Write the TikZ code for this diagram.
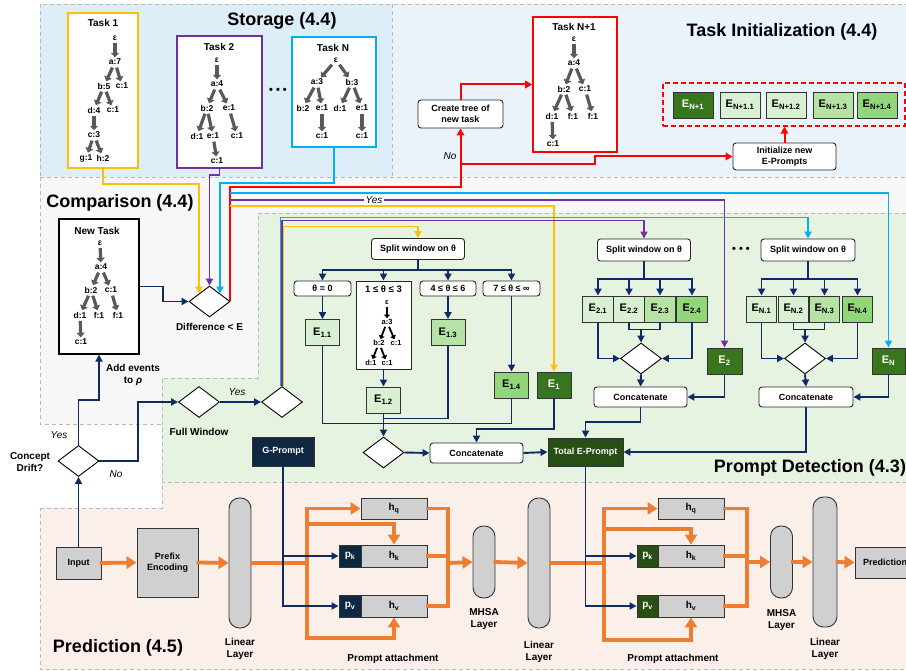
\documentclass[tikz,border=0pt]{standalone}
\usepackage{fontspec}
\setmainfont{Liberation Sans}
\usetikzlibrary{arrows.meta,positioning,calc,shapes.geometric}

\definecolor{navy}{RGB}{16,42,102}
\definecolor{orng}{RGB}{237,125,49}
\definecolor{ylw}{RGB}{255,192,0}
\definecolor{purp}{RGB}{112,48,160}
\definecolor{cyn}{RGB}{0,176,240}
\definecolor{myred}{RGB}{255,0,0}
\definecolor{boxgray}{RGB}{208,208,208}
\definecolor{darknavy}{RGB}{14,40,65}
\definecolor{edark}{RGB}{56,118,29}
\definecolor{etotal}{RGB}{39,78,19}
\definecolor{elight}{RGB}{217,240,211}
\definecolor{emid}{RGB}{182,227,165}
\definecolor{ehigh}{RGB}{146,214,122}
\definecolor{stobg}{RGB}{221,238,248}
\definecolor{inibg}{RGB}{235,243,250}
\definecolor{cmpbg}{RGB}{247,247,247}
\definecolor{detbg}{RGB}{229,243,224}
\definecolor{prdbg}{RGB}{251,239,234}
\definecolor{treegray}{RGB}{89,89,89}
\definecolor{dashgray}{RGB}{185,185,185}

\tikzset{
  region/.style={draw=dashgray, line width=0.9pt, dash pattern=on 4pt off 3pt},
  sect/.style={font=\bfseries\fontsize{18}{20}\selectfont},
  ttl/.style={font=\bfseries\fontsize{10}{12}\selectfont, inner sep=1pt},
  tl/.style={font=\bfseries\fontsize{8.5}{9}\selectfont, inner sep=1pt},
  tarr/.style={draw=treegray, line width=3.2pt, -{Triangle[length=4.5pt,width=8pt]}, shorten <=1.5pt, shorten >=0.5pt},
  tarrs/.style={draw=black, line width=1.8pt, -{Triangle[length=3.5pt,width=6pt]}, shorten <=1pt},
  taskbox/.style={draw=#1, fill=white, line width=1.8pt, inner sep=0pt},
  rbox/.style={draw=black!85, fill=white, rounded corners=3pt, line width=0.9pt, font=\bfseries\fontsize{9}{11}\selectfont, align=center, inner sep=1pt},
  ebox/.style={draw=black!80, line width=0.9pt, font=\bfseries\fontsize{11}{12}\selectfont, minimum width=34pt, minimum height=26pt, inner sep=0pt},
  dkbox/.style={draw=black!80, line width=0.9pt, text=white, font=\bfseries\fontsize{9}{11}\selectfont, inner sep=1pt},
  gbox/.style={draw=black!80, line width=0.9pt, fill=boxgray, font=\bfseries\fontsize{9}{11}\selectfont, align=center, inner sep=1pt},
  pill/.style={draw=black!80, line width=0.9pt, fill=boxgray, rounded corners=10.5pt, minimum width=22pt},
  dia/.style={diamond, draw=black, fill=white, line width=0.9pt, minimum width=41pt, minimum height=31pt, inner sep=0pt},
  lbl/.style={font=\bfseries\fontsize{10}{12}\selectfont, align=center},
  yesno/.style={font=\itshape\fontsize{10}{12}\selectfont},
  nav/.style={draw=navy, line width=1.9pt, -{Triangle[length=7pt,width=7pt]}},
  navline/.style={draw=navy, line width=1.9pt},
  oarr/.style={draw=orng, line width=3.8pt, line cap=rect, -{Triangle[length=10pt,width=12pt]}},
  oline/.style={draw=orng, line width=3.8pt, line cap=rect},
  redarr/.style={draw=myred, line width=2pt, -{Triangle[length=7pt,width=7.5pt]}},
  ylwarr/.style={draw=ylw, line width=1.8pt, -{Triangle[length=7pt,width=7pt]}},
  purarr/.style={draw=purp, line width=1.8pt, -{Triangle[length=7pt,width=7pt]}},
  cynarr/.style={draw=cyn, line width=1.8pt, -{Triangle[length=7pt,width=7pt]}},
}

\begin{document}
\begin{tikzpicture}[x=1pt, y=-1pt]
\useasboundingbox (0,0) rectangle (906,671);
\clip (0,0) rectangle (906,671);

% regions
\filldraw[region, fill=stobg] (40,4) rectangle (392,177);
\filldraw[region, fill=inibg] (392,4) rectangle (915,177);
\filldraw[region, fill=cmpbg] (40,177) -- (915,177) -- (915,213) -- (258,213) -- (258,378) -- (162,378) -- (162,424) -- (40,424) -- cycle;
\filldraw[region, fill=detbg] (258,213) -- (915,213) -- (915,482) -- (162,482) -- (162,378) -- (258,378) -- cycle;
\filldraw[region, fill=prdbg] (40,508) -- (162,508) -- (162,482) -- (915,482) -- (915,669) -- (40,669) -- cycle;

\node[sect] (tsto) at (282,21) {Storage (4.4)};
\node[sect] (tini) at (782,32) {Task Initialization (4.4)};
\node[sect] (tcmp) at (120,203) {Comparison (4.4)};
\node[sect] (tdet) at (810,468) {Prompt Detection (4.3)};
\node[sect] (tprd) at (118,648) {Prediction (4.5)};

% storage trees
\node[taskbox=ylw, minimum width=70pt, minimum height=155pt] (task1) at (103,90.5) {};
\node[ttl] (task1t) at (103,23) {Task 1};
\node[tl] (t1e) at (115,38) {ε};
\node[tl] (t1a) at (115,62) {a:7};
\node[tl] (t1b) at (104,86) {b:5};
\node[tl] (t1c) at (122,86) {c:1};
\node[tl] (t1d) at (94,110) {d:4};
\node[tl] (t1c2) at (113,110) {c:1};
\node[tl] (t1c3) at (94,135) {c:3};
\node[tl] (t1g) at (86,158) {g:1};
\node[tl] (t1h) at (103,158) {h:2};
\draw[tarr] (t1e) -- (t1a);
\draw[tarr] (t1a) -- (t1b);
\draw[tarr] (t1a) -- (t1c);
\draw[tarr] (t1b) -- (t1d);
\draw[tarr] (t1b) -- (t1c2);
\draw[tarr] (t1d) -- (t1c3);
\draw[tarr] (t1c3) -- (t1g);
\draw[tarr] (t1c3) -- (t1h);

\node[taskbox=purp, minimum width=85pt, minimum height=132pt] (task2) at (219.5,102) {};
\node[ttl] (task2t) at (219,47) {Task 2};
\node[tl] (t2e) at (217,60) {ε};
\node[tl] (t2a) at (217,84) {a:4};
\node[tl] (t2b) at (207,108) {b:2};
\node[tl] (t2f) at (229,108) {e:1};
\node[tl] (t2d) at (197,136) {d:1};
\node[tl] (t2g) at (213,136) {e:1};
\node[tl] (t2c) at (237,136) {c:1};
\node[tl] (t2h) at (217,161) {c:1};
\draw[tarr] (t2e) -- (t2a);
\draw[tarr] (t2a) -- (t2b);
\draw[tarr] (t2a) -- (t2f);
\draw[tarr] (t2b) -- (t2d);
\draw[tarr] (t2b) -- (t2g);
\draw[tarr] (t2f) -- (t2c);
\draw[tarr] (t2g) -- (t2h);

\node[font=\bfseries\fontsize{11}{11}\selectfont] (dots1) at (278,91) {• • •};

\node[taskbox=cyn, minimum width=84pt, minimum height=110pt] (taskN) at (334,92) {};
\node[ttl] (taskNt) at (333,48) {Task N};
\node[tl] (tne) at (336,60) {ε};
\node[tl] (tna) at (317,82) {a:3};
\node[tl] (tnb) at (352,82) {b:3};
\node[tl] (tnb2) at (303,108) {b:2};
\node[tl] (tne1) at (322,108) {e:1};
\node[tl] (tnd) at (340,108) {d:1};
\node[tl] (tne2) at (362,108) {e:1};
\node[tl] (tnc1) at (322,136) {c:1};
\node[tl] (tnc2) at (362,136) {c:1};
\draw[tarr] (tne) -- (tna);
\draw[tarr] (tne) -- (tnb);
\draw[tarr] (tna) -- (tnb2);
\draw[tarr] (tna) -- (tne1);
\draw[tarr] (tnb) -- (tnd);
\draw[tarr] (tnb) -- (tne2);
\draw[tarr] (tne1) -- (tnc1);
\draw[tarr] (tne2) -- (tnc2);

% task initialization
\node[taskbox=myred, minimum width=84pt, minimum height=135pt, line width=1.6pt] (taskN1) at (575,84.5) {};
\node[ttl] (taskN1t) at (574,27) {Task N+1};
\node[tl] (u1e) at (574,39) {ε};
\node[tl] (u1a) at (574,63) {a:4};
\node[tl] (u1b) at (564,89) {b:2};
\node[tl] (u1c) at (585,89) {c:1};
\node[tl] (u1d) at (552,116) {d:1};
\node[tl] (u1f) at (573,116) {f:1};
\node[tl] (u1f2) at (593,116) {f:1};
\node[tl] (u1c2) at (553,144) {c:1};
\draw[tarr] (u1e) -- (u1a);
\draw[tarr] (u1a) -- (u1b);
\draw[tarr] (u1a) -- (u1c);
\draw[tarr] (u1b) -- (u1d);
\draw[tarr] (u1b) -- (u1f);
\draw[tarr] (u1c) -- (u1f2);
\draw[tarr] (u1d) -- (u1c2);

\node[rbox, minimum width=85pt, minimum height=28pt] (crtree) at (460.5,114) {Create tree of\\new task};
\node[rbox, minimum width=103pt, minimum height=27pt] (initE) at (784.5,156.5) {Initialize new\\E-Prompts};
\node[draw=myred, line width=1.4pt, dash pattern=on 5pt off 3pt, minimum width=242pt, minimum height=43pt] (edash) at (784,104.5) {};
\node[ebox, fill=edark, text=white, minimum width=40pt] (enp1) at (693,105) {E\textsubscript{N+1}};
\node[ebox, fill=elight, minimum width=40pt] (enp11) at (740,105) {E\textsubscript{N+1.1}};
\node[ebox, fill=elight, minimum width=40pt] (enp12) at (786,105) {E\textsubscript{N+1.2}};
\node[ebox, fill=emid, minimum width=40pt] (enp13) at (833,105) {E\textsubscript{N+1.3}};
\node[ebox, fill=ehigh, minimum width=40pt] (enp14) at (877,105) {E\textsubscript{N+1.4}};

% comparison
\node[taskbox=black, minimum width=80pt, minimum height=135pt, line width=1.2pt] (newtask) at (99,286.5) {};
\node[ttl] (newtaskt) at (97,231) {New Task};
\node[tl] (n1e) at (100,243) {ε};
\node[tl] (n1a) at (101,267) {a:4};
\node[tl] (n1b) at (91,290) {b:2};
\node[tl] (n1c) at (111,290) {c:1};
\node[tl] (n1d) at (80,315) {d:1};
\node[tl] (n1f) at (99,315) {f:1};
\node[tl] (n1f2) at (118,315) {f:1};
\node[tl] (n1c2) at (81,342) {c:1};
\draw[tarr] (n1e) -- (n1a);
\draw[tarr] (n1a) -- (n1b);
\draw[tarr] (n1a) -- (n1c);
\draw[tarr] (n1b) -- (n1d);
\draw[tarr] (n1b) -- (n1f);
\draw[tarr] (n1c) -- (n1f2);
\draw[tarr] (n1d) -- (n1c2);

\node[dia] (diff) at (209.5,301.5) {};
\node[lbl] (diffl) at (209.5,327) {Difference < E};
\node[dia] (drift) at (78.5,461) {};
\node[lbl] (driftl) at (30,462) {Concept\\Drift?};
\node[dia] (fw) at (199,402) {};
\node[lbl] (fwl) at (199,432) {Full Window};
\node[dia] (dsel) at (282,402) {};
\node[lbl] (addl) at (133,375) {Add events\\to \textit{ρ}};

% prompt detection, group 1
\node[rbox, minimum width=93pt, minimum height=21pt] (split1) at (418,249) {Split window on θ};
\node[rbox, minimum width=57pt, minimum height=15pt] (th0) at (322.5,288.5) {θ = 0};
\node[draw=black!85, fill=white, line width=0.9pt, minimum width=55pt, minimum height=88pt] (th13) at (383.5,325) {};
\node[lbl, font=\bfseries\fontsize{9.5}{11}\selectfont] (th13t) at (383.5,289) {1 ≤ θ ≤ 3};
\node[rbox, minimum width=56pt, minimum height=15pt] (th46) at (448,288.5) {4 ≤ θ ≤ 6};
\node[rbox, minimum width=57pt, minimum height=15pt] (th7) at (511.5,288.5) {7 ≤ θ ≤ ∞};
\node[tl, font=\bfseries\fontsize{7.5}{8}\selectfont] (g1e) at (387,303) {ε};
\node[tl, font=\bfseries\fontsize{7.5}{8}\selectfont] (g1a) at (387,322) {a:3};
\node[tl, font=\bfseries\fontsize{7.5}{8}\selectfont] (g1b) at (379,343) {b:2};
\node[tl, font=\bfseries\fontsize{7.5}{8}\selectfont] (g1c) at (396,343) {c:1};
\node[tl, font=\bfseries\fontsize{7.5}{8}\selectfont] (g1d) at (371,363) {d:1};
\node[tl, font=\bfseries\fontsize{7.5}{8}\selectfont] (g1c2) at (387,363) {c:1};
\draw[tarrs] (g1e) -- (g1a);
\draw[tarrs] (g1a) -- (g1b);
\draw[tarrs] (g1a) -- (g1c);
\draw[tarrs] (g1b) -- (g1d);
\draw[tarrs] (g1b) -- (g1c2);

\node[ebox, fill=elight] (e11) at (322.5,332.5) {E\textsubscript{1.1}};
\node[ebox, fill=elight] (e12) at (383.5,400) {E\textsubscript{1.2}};
\node[ebox, fill=emid] (e13) at (448,332.5) {E\textsubscript{1.3}};
\node[ebox, fill=ehigh] (e14) at (511.5,385) {E\textsubscript{1.4}};
\node[ebox, fill=edark, text=white] (e1) at (554,385) {E\textsubscript{1}};
\node[dia] (dia1) at (383.5,452.5) {};
\node[rbox, minimum width=93pt, minimum height=20pt] (cat1) at (476.5,453) {Concatenate};
\node[dkbox, fill=etotal, minimum width=75pt, minimum height=28pt] (total) at (585.5,452) {Total E-Prompt};
\node[dkbox, fill=darknavy, minimum width=62pt, minimum height=29pt] (gprompt) at (283,451.5) {G-Prompt};

% group 2
\node[rbox, minimum width=93pt, minimum height=22pt] (split2) at (644,250) {Split window on θ};
\node[ebox, fill=elight, minimum width=30.5pt] (e21) at (598,309) {E\textsubscript{2.1}};
\node[ebox, fill=elight, minimum width=30.5pt] (e22) at (629,309) {E\textsubscript{2.2}};
\node[ebox, fill=emid, minimum width=30.5pt] (e23) at (660,309) {E\textsubscript{2.3}};
\node[ebox, fill=ehigh, minimum width=30.5pt] (e24) at (692,309) {E\textsubscript{2.4}};
\node[dia] (dia2) at (641,358.5) {};
\node[rbox, minimum width=93pt, minimum height=20pt] (cat2) at (640.5,397) {Concatenate};
\node[ebox, fill=edark, text=white, minimum width=35pt] (e2) at (724.5,361) {E\textsubscript{2}};

\node[font=\bfseries\fontsize{11}{11}\selectfont] (dots2) at (741,250) {• • •};

% group N
\node[rbox, minimum width=94pt, minimum height=22pt] (splitN) at (808,250) {Split window on θ};
\node[ebox, fill=elight, minimum width=30pt] (en1) at (761.5,309) {E\textsubscript{N.1}};
\node[ebox, fill=elight, minimum width=30pt] (en2) at (793.5,309) {E\textsubscript{N.2}};
\node[ebox, fill=emid, minimum width=30pt] (en3) at (824.5,309) {E\textsubscript{N.3}};
\node[ebox, fill=ehigh, minimum width=30pt] (en4) at (857.5,309) {E\textsubscript{N.4}};
\node[dia] (diaN) at (805,358.5) {};
\node[rbox, minimum width=94pt, minimum height=20pt] (catN) at (806,397) {Concatenate};
\node[ebox, fill=edark, text=white, minimum width=33pt] (en) at (888.5,361) {E\textsubscript{N}};

% prediction
\node[gbox, minimum width=45pt, minimum height=32pt] (input) at (78.5,563) {Input};
\node[gbox, minimum width=61pt, minimum height=69pt] (prefix) at (167.5,562.5) {Prefix\\Encoding};
\node[pill, minimum height=130pt] (lin1) at (240,563) {};
\node[gbox, minimum width=66pt, minimum height=21pt, font=\bfseries\fontsize{10}{11}\selectfont] (hq1) at (394,508.5) {h\textsubscript{q}};
\node[gbox, minimum width=66pt, minimum height=22pt, font=\bfseries\fontsize{10}{11}\selectfont] (hk1) at (394,556) {h\textsubscript{k}};
\node[gbox, minimum width=66pt, minimum height=22pt, font=\bfseries\fontsize{10}{11}\selectfont] (hv1) at (394,606) {h\textsubscript{v}};
\node[dkbox, fill=darknavy, minimum width=22pt, minimum height=22pt, font=\bfseries\fontsize{10}{11}\selectfont] (pk1) at (350,556) {p\textsubscript{k}};
\node[dkbox, fill=darknavy, minimum width=22pt, minimum height=22pt, font=\bfseries\fontsize{10}{11}\selectfont] (pv1) at (350,606) {p\textsubscript{v}};
\node[pill, minimum height=72pt] (mhsa1) at (484,562) {};
\node[pill, minimum height=130pt] (lin2) at (539,563) {};
\node[gbox, minimum width=66pt, minimum height=21pt, font=\bfseries\fontsize{10}{11}\selectfont] (hq2) at (691,508.5) {h\textsubscript{q}};
\node[gbox, minimum width=66pt, minimum height=22pt, font=\bfseries\fontsize{10}{11}\selectfont] (hk2) at (691,556) {h\textsubscript{k}};
\node[gbox, minimum width=66pt, minimum height=22pt, font=\bfseries\fontsize{10}{11}\selectfont] (hv2) at (691,606) {h\textsubscript{v}};
\node[dkbox, fill=etotal, minimum width=21pt, minimum height=22pt, font=\bfseries\fontsize{10}{11}\selectfont] (pk2) at (647.5,556) {p\textsubscript{k}};
\node[dkbox, fill=etotal, minimum width=21pt, minimum height=22pt, font=\bfseries\fontsize{10}{11}\selectfont] (pv2) at (647.5,606) {p\textsubscript{v}};
\node[pill, minimum height=72pt] (mhsa2) at (781.5,562) {};
\node[pill, minimum height=130pt, minimum width=24pt] (lin3) at (825,562) {};
\node[gbox, minimum width=60pt, minimum height=31pt] (pred) at (885,562.5) {Prediction};

\node[lbl] (lin1l) at (240,649) {Linear\\Layer};
\node[lbl] (mh1l) at (484,619) {MHSA\\Layer};
\node[lbl] (lin2l) at (539,651.5) {Linear\\Layer};
\node[lbl] (mh2l) at (781.5,620) {MHSA\\Layer};
\node[lbl] (lin3l) at (825,649) {Linear\\Layer};
\node[lbl] (pa1) at (393,659) {Prompt attachment};
\node[lbl] (pa2) at (673,659) {Prompt attachment};

% storage -> comparison
\draw[ylwarr] (task1.south) -- ++(0,15) -| (diff.north west);
\draw[purarr] (task2.south) -- ++(0,6) -| (diff.north);
\draw[cynarr] (taskN.south) -- ++(0,35) -| (diff.north east);

% no: new task
\draw[redarr] (diff.east) |- ($(crtree.south)+(0,59)$) -- (crtree.south);
\draw[redarr] ($(crtree.south)+(0,36)$) -| ($(initE.west)+(-138,0)$) -- (initE.west);
\draw[redarr] (crtree.north) |- (taskN1.west);
\draw[redarr] (initE.north) -- (initE.north |- edash.south);

% yes: stored prompts
\draw[cynarr] ($(diff.east)+(0,-108.5)$) -| (en.north);
\draw[purarr] ($(diff.east)+(0,-101.5)$) -| (e2.north);
\draw[ylwarr] ($(diff.east)+(0,-95.5)$) -| (e1.north);

% window split feeds
\draw[cynarr] ($(dsel.north)+(-1.5,0)$) |- ($(splitN.north)+(0,-21)$) -- (splitN.north);
\draw[ylwarr] ($(dsel.north)+(1.5,0)$) |- ($(split1.north)+(0,-11.5)$) -- (split1.north);
\draw[purarr] (dsel.north) |- ($(split2.north)+(0,-18)$) -- (split2.north);

% comparison flow
\draw[nav] (input.north) -- (drift.south);
\draw[nav] (drift.north) |- ($(newtask.south)+(0,45)$) -- (newtask.south);
\draw[nav] (drift.east) -| ($(fw.west)+(-40,0)$) -- (fw.west);
\draw[nav] (fw.east) -- (dsel.west);
\draw[nav] (newtask.east) -| ($(diff.west)+(-26,0)$) -- (diff.west);

% group 1 wiring
\coordinate (s1b) at ($(split1.south)+(0,10)$);
\draw[navline] (split1.south) -- (s1b);
\foreach \t in {th0,th13,th46,th7} \draw[nav] (s1b) -| (\t.north);
\draw[nav] (th0.south) -- (e11.north);
\draw[nav] (th13.south) -- (e12.north);
\draw[nav] (th46.south) -- (e13.north);
\draw[nav] (th7.south) -- (e14.north);
\draw[navline] (e11.south) |- ($(e14.south)+(0,25)$) -- (e14.south);
\draw[navline] (e13.south) |- ($(e12.south)+(0,5)$);
\draw[nav] (e12.south) -- (dia1.north);
\draw[nav] (dia1.east) -- (cat1.west);
\draw[nav] (e1.south) |- ($(cat1.north)+(0,-14)$) -- (cat1.north);
\draw[nav] (cat1.east) -- (total.west);

% group 2 wiring
\coordinate (s2b) at ($(split2.south)+(0,18)$);
\draw[navline] (split2.south) -- (s2b);
\foreach \t in {e21,e22,e23,e24} \draw[nav] (s2b) -| (\t.north);
\draw[nav] (e21.south) |- (dia2.west);
\draw[nav] (e24.south) |- (dia2.east);
\draw[navline] (e22.south) |- ($(dia2.north)+(0,-13)$) -| (e23.south);
\draw[nav] ($(dia2.north)+(0,-13)$) -- (dia2.north);
\draw[nav] (dia2.south) -- (cat2.north);
\draw[nav] (e2.south) |- (cat2.east);
\draw[nav] (cat2.south) |- ($(total.north)+(0,-16)$) -- (total.north);

% group N wiring
\coordinate (sNb) at ($(splitN.south)+(0,18)$);
\draw[navline] (splitN.south) -- (sNb);
\foreach \t in {en1,en2,en3,en4} \draw[nav] (sNb) -| (\t.north);
\draw[nav] (en1.south) |- (diaN.west);
\draw[nav] (en4.south) |- (diaN.east);
\draw[navline] (en2.south) |- ($(diaN.north)+(0,-13)$) -| (en3.south);
\draw[nav] ($(diaN.north)+(0,-13)$) -- (diaN.north);
\draw[nav] (diaN.south) -- (catN.north);
\draw[nav] (en.south) |- (catN.east);
\draw[nav] (catN.south) |- (total.east);

% prediction flow
\draw[oarr] (input.east) -- (prefix.west);
\draw[oarr] (prefix.east) -- (lin1.west);
\coordinate (j1) at (307,563);
\draw[oline] (lin1.east) -- (j1);
\draw[oarr] (j1 |- 0,638) |- (hq1.west);
\draw[oarr] (j1 |- 0,638) -| (hv1.south);
\draw[oarr] (j1 |- 0,524) -| (hk1.north);
\coordinate (k1) at (448,563);
\draw[oline] (hq1.east) -| (k1 |- hv1.east) -- (hv1.east);
\draw[oline] (hk1.east) -- (k1 |- hk1.east);
\draw[oarr] (k1) -- (mhsa1.west);
\draw[oarr] (mhsa1.east) -- (lin2.west);
\coordinate (j2) at (604,563);
\draw[oline] (lin2.east) -- (j2);
\draw[oarr] (j2 |- 0,640) |- (hq2.west);
\draw[oarr] (j2 |- 0,640) -| (hv2.south);
\draw[oarr] (j2 |- 0,529) -| (hk2.north);
\coordinate (k2) at (747,562);
\draw[oline] (hq2.east) -| (k2 |- hv2.east) -- (hv2.east);
\draw[oline] (hk2.east) -- (k2 |- hk2.east);
\draw[oarr] (k2) -- (mhsa2.west);
\draw[oarr] (mhsa2.east) -- (lin3.west);
\draw[oarr] (lin3.east) -- (pred.west);

\draw[nav] (gprompt.south) |- (pv1.west);
\draw[nav] (gprompt.south |- pk1.west) -- (pk1.west);
\draw[nav] (total.south) |- (pv2.west);
\draw[nav] (total.south |- pk2.west) -- (pk2.west);

% labels
\node[yesno] (yes2) at (59,435) {Yes};
\node[yesno] (no2) at (116,474) {No};
\node[yesno] (yes3) at (237,392) {Yes};
\node[yesno] (no1) at (450,156) {No};
\node[yesno, fill=white, inner sep=2pt] (yes1) at (374,200) {Yes};
\end{tikzpicture}
\end{document}
